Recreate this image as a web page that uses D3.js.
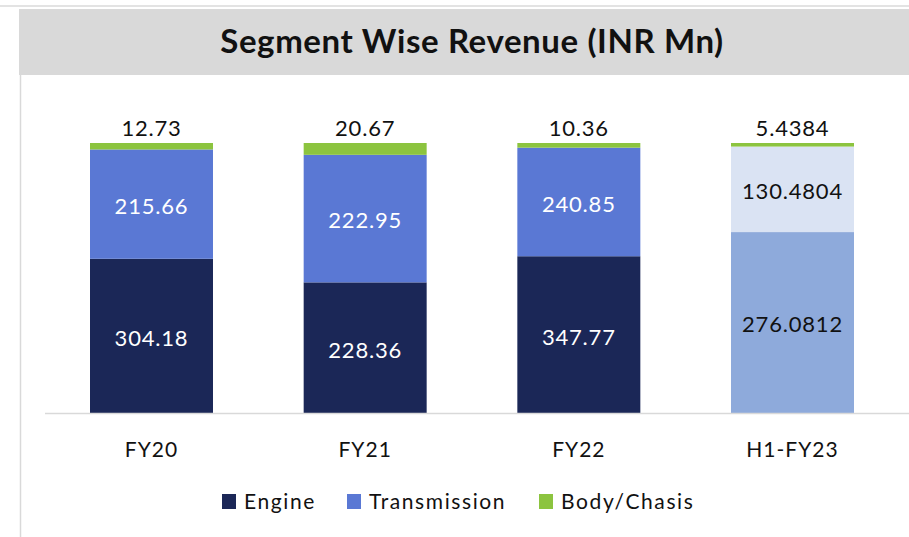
<!DOCTYPE html>
<html>
<head>
<meta charset="utf-8">
<script src="https://cdn.jsdelivr.net/npm/d3@7"></script>
<style>
  body { margin: 0; background: #fff; }
  text { font-family: Lato, "Open Sans", sans-serif; }
</style>
</head>
<body>
<svg id="chart"></svg>
<script>
// chart data
var categories = ["FY20", "FY21", "FY22", "H1-FY23"]
var engine = [304.18, 228.36, 347.77, 276.0812]
var transmission = [215.66, 222.95, 240.85, 130.4804]
var bodyChasis = [12.73, 20.67, 10.36, 5.4384]
var labelEngine = ["304.18", "228.36", "347.77", "276.0812"]
var labelTrans = ["215.66", "222.95", "240.85", "130.4804"]
var labelBody = ["12.73", "20.67", "10.36", "5.4384"]
var seriesNames = ["Engine", "Transmission", "Body/Chasis"]

var screen = {width: 909, height: 537}

var svg = d3.select("#chart")
    .attr("width", screen.width)
    .attr("height", screen.height)

// frame + title band
svg.append("rect").attr("x", 0).attr("y", 5).attr("width", screen.width).attr("height", 2).attr("fill", "#e3e3e3")
svg.append("rect").attr("x", 19).attr("y", 9).attr("width", screen.width - 19).attr("height", 66).attr("fill", "#d9d9d9")
svg.append("line").attr("x1", 20.5).attr("x2", 20.5).attr("y1", 75).attr("y2", screen.height)
    .attr("stroke", "#d9d9d9").attr("stroke-width", 1.5)

svg.append("text")
    .attr("x", 472).attr("y", 53)
    .attr("text-anchor", "middle")
    .attr("font-size", 33).attr("font-weight", "bold")
    .attr("letter-spacing", 0.6)
    .attr("fill", "#111")
    .text("Segment Wise Revenue (INR Mn)")

// build rows, percentage stack
var rows = categories.map(function(c, i) {
    var total = engine[i] + transmission[i] + bodyChasis[i]
    return {cat: c, idx: i, Engine: engine[i] / total, Transmission: transmission[i] / total, "Body/Chasis": bodyChasis[i] / total}
})
var stacked = d3.stack().keys(seriesNames)(rows)

var xScale = d3.scaleBand()
    .domain(categories)
    .range([45, 899])
    .paddingInner(0.4244)
    .paddingOuter(0.2106)

var yScale = d3.scaleLinear()
    .domain([0, 1])
    .range([413, 143])

var colors = {
    "Engine": ["#1b2757", "#1b2757", "#1b2757", "#8eaadb"],
    "Transmission": ["#5a78d4", "#5a78d4", "#5a78d4", "#dae3f3"],
    "Body/Chasis": ["#8cc43f", "#8cc43f", "#8cc43f", "#8cc43f"]
}
var legendColors = {"Engine": "#1b2757", "Transmission": "#5a78d4", "Body/Chasis": "#8cc43f"}

var g = svg.append("g").attr("id", "graph")

stacked.forEach(function(layer) {
    g.selectAll(null)
        .data(layer)
        .enter()
        .append("rect")
        .attr("x", function(d) { return xScale(d.data.cat) })
        .attr("width", xScale.bandwidth())
        .attr("y", function(d) { return yScale(d[1]) })
        .attr("height", function(d) { return yScale(d[0]) - yScale(d[1]) })
        .attr("fill", function(d) { return colors[layer.key][d.data.idx] })
})

// baseline
svg.append("line")
    .attr("x1", 45).attr("x2", 909)
    .attr("y1", yScale(0) + 0.5).attr("y2", yScale(0) + 0.5)
    .attr("stroke", "#d9d9d9").attr("stroke-width", 1.5)

// segment labels
var mid = function(d) { return (yScale(d[0]) + yScale(d[1])) / 2 }
g.selectAll(".lblE")
    .data(stacked[0])
    .enter()
    .append("text")
    .attr("x", function(d) { return xScale(d.data.cat) + xScale.bandwidth() / 2 })
    .attr("y", function(d) { return mid(d) })
    .attr("dy", "0.45em")
    .attr("text-anchor", "middle")
    .attr("font-size", 22).attr("letter-spacing", 0.8)
    .attr("fill", function(d) { return d.data.idx == 3 ? "#111" : "#fff" })
    .text(function(d) { return labelEngine[d.data.idx] })

g.selectAll(".lblT")
    .data(stacked[1])
    .enter()
    .append("text")
    .attr("x", function(d) { return xScale(d.data.cat) + xScale.bandwidth() / 2 })
    .attr("y", function(d) { return mid(d) })
    .attr("dy", "0.45em")
    .attr("text-anchor", "middle")
    .attr("font-size", 22).attr("letter-spacing", 0.8)
    .attr("fill", function(d) { return d.data.idx == 3 ? "#111" : "#fff" })
    .text(function(d) { return labelTrans[d.data.idx] })

g.selectAll(".lblB")
    .data(stacked[2])
    .enter()
    .append("text")
    .attr("x", function(d) { return xScale(d.data.cat) + xScale.bandwidth() / 2 })
    .attr("y", function(d) { return yScale(d[1]) - 7 })
    .attr("text-anchor", "middle")
    .attr("font-size", 22).attr("letter-spacing", 0.8)
    .attr("fill", "#111")
    .text(function(d) { return labelBody[d.data.idx] })

// category axis
var xAxis = d3.axisBottom(xScale).tickSize(0).tickPadding(29)
svg.append("g")
    .attr("transform", "translate(0," + yScale(0) + ")")
    .call(xAxis)
    .call(function(a) { a.select(".domain").remove() })
    .selectAll("text")
    .attr("font-size", 21)
    .attr("letter-spacing", 1)
    .attr("fill", "#111")
    .style("font-family", "Lato, 'Open Sans', sans-serif")

// legend
var legendX = [222, 347, 539]
var legend = svg.append("g")
legend.selectAll("rect")
    .data(seriesNames)
    .enter()
    .append("rect")
    .attr("x", function(d, i) { return legendX[i] })
    .attr("y", 494)
    .attr("width", 14).attr("height", 15)
    .attr("fill", function(d) { return legendColors[d] })
legend.selectAll("text")
    .data(seriesNames)
    .enter()
    .append("text")
    .attr("x", function(d, i) { return legendX[i] + 22 })
    .attr("y", 509)
    .attr("font-size", 21)
    .attr("letter-spacing", 1.6)
    .attr("fill", "#111")
    .text(function(d) { return d })
</script>
</body>
</html>
